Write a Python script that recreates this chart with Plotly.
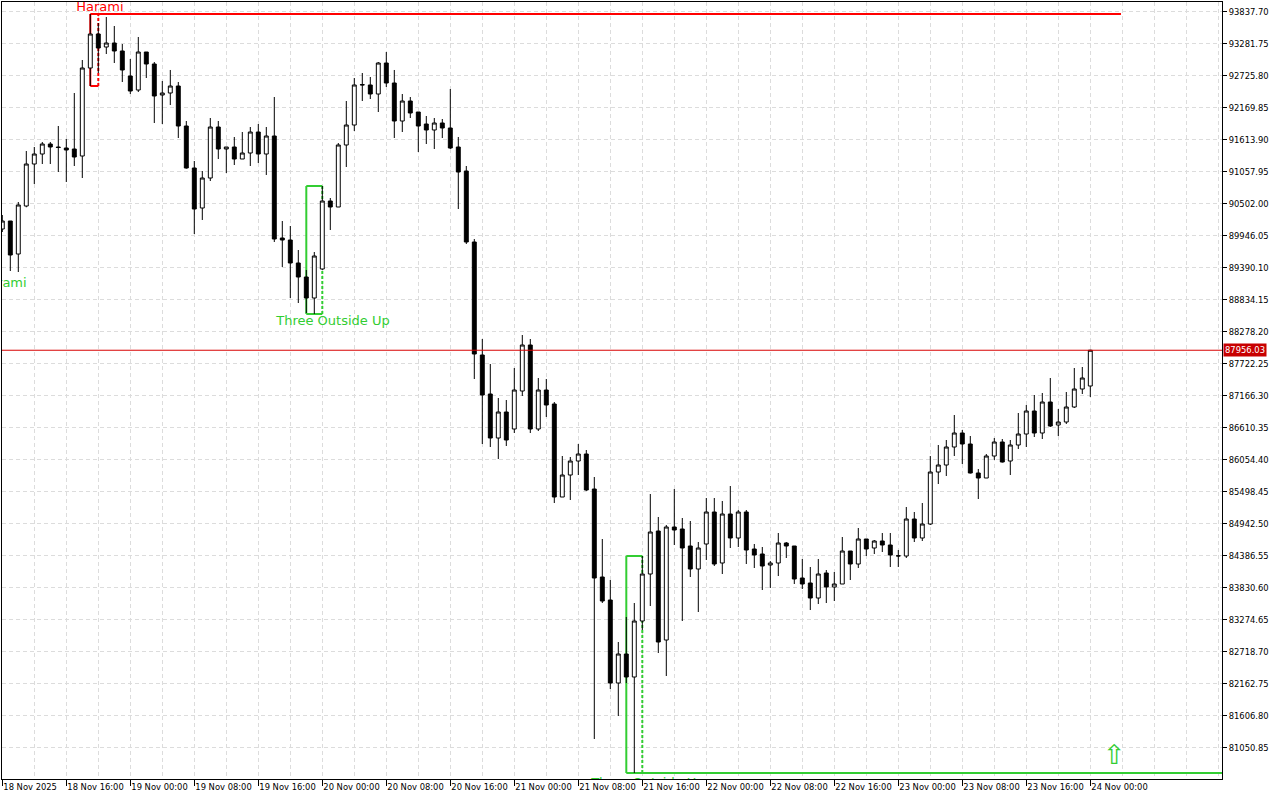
import pandas as pd
import plotly.graph_objects as go

# ---------------- data ----------------
START = "2025-11-18 08:00"
N_BARS = 137

OPEN = [90062.5, 90201.5, 89628.2, 90462.0, 91191.8, 91365.5, 91539.2, 91487.1, 91469.7, 91452.4,
        91330.7, 92859.6, 93450.3, 93224.4, 93293.9, 93155.0, 92720.6, 92477.4, 93137.6, 92929.1,
        92390.5, 92425.3, 92546.9, 91851.9, 91122.3, 90427.3, 90948.5, 91834.6, 91452.4, 91487.1,
        91278.6, 91382.9, 91747.7, 91365.5, 91678.2, 89906.1, 89871.4, 89471.8, 89228.6, 88863.7,
        89367.6, 90548.9, 90444.7, 91521.9, 91869.3, 92564.3, 92564.3, 92407.9, 92946.5, 92599.0,
        91938.8, 92286.3, 92095.2, 91886.7, 91782.5, 91904.0, 91817.2, 91487.1, 91070.1, 89836.6,
        87873.4, 87195.9, 86431.5, 86883.2, 86587.8, 87248.0, 88047.2, 86587.8, 87265.4, 87022.1,
        85406.4, 85788.6, 86031.8, 86153.5, 85545.4, 84016.5, 83617.0, 82175.0, 82678.8, 82279.2,
        83252.1, 84068.7, 84815.7, 82922.0, 84885.2, 84850.5, 84555.1, 84155.5, 84589.9, 85145.8,
        84259.8, 85111.1, 84694.1, 85145.8, 84503.0, 84416.1, 84225.0, 84259.8, 84607.2, 84555.1,
        83999.2, 83912.3, 83651.7, 84086.0, 83842.8, 83894.9, 84468.3, 84242.4, 84676.7, 84520.4,
        84642.0, 84572.5, 84381.4, 84381.4, 85024.2, 84694.1, 84937.3, 85840.8, 85962.4, 86275.1,
        86518.3, 86327.2, 85823.4, 85736.5, 86118.7, 86362.0, 86031.8, 86309.8, 86500.9, 86900.5,
        86518.3, 87056.9, 86657.3, 86709.4, 86970.0, 87282.7, 87334.9]

HIGH = [90305.7, 90201.5, 90531.6, 91417.6, 91487.1, 91574.0, 91574.0, 91851.9, 91626.1, 92425.3,
        92998.6, 93797.8, 93641.4, 93745.7, 93589.3, 93276.6, 93016.0, 93398.2, 93137.6, 92963.8,
        92633.8, 92824.9, 92616.4, 91938.8, 91243.9, 91070.1, 91990.9, 91938.8, 91487.1, 91660.8,
        91747.7, 91834.6, 91886.7, 91834.6, 92355.8, 90201.5, 90114.6, 89697.6, 89350.2, 89662.9,
        90809.5, 90601.0, 91556.6, 92286.3, 92685.9, 92772.7, 92703.2, 92963.8, 93137.6, 92824.9,
        92407.9, 92355.8, 92095.2, 92025.7, 91990.9, 91973.6, 92494.8, 91660.8, 91157.0, 89888.8,
        88151.4, 87717.1, 87126.4, 87091.6, 87647.6, 88220.9, 88151.4, 87473.9, 87456.5, 87056.9,
        86118.7, 86101.4, 86327.2, 86223.0, 85753.9, 84676.7, 83964.4, 82887.3, 83321.6, 83564.8,
        84381.4, 85458.5, 85059.0, 84920.0, 85545.4, 85041.6, 84989.5, 84624.6, 85389.0, 85389.0,
        85336.9, 85597.5, 85180.6, 85180.6, 84589.9, 84537.8, 84294.5, 84781.0, 84624.6, 84555.1,
        84329.3, 84190.3, 84329.3, 84138.2, 84103.4, 84711.5, 84468.3, 84867.8, 84676.7, 84659.4,
        84781.0, 84781.0, 84485.6, 85232.7, 85145.8, 85302.2, 86118.7, 86309.8, 86396.7, 86831.0,
        86570.4, 86466.2, 85892.9, 86153.5, 86431.5, 86414.1, 86396.7, 86865.8, 87004.8, 87178.5,
        87213.3, 87473.9, 86935.3, 87230.6, 87647.6, 87665.0, 87965.0]

LOW = [90010.4, 89332.8, 89315.4, 90440.0, 90844.3, 91191.8, 91191.8, 91052.8, 90879.0, 91157.0,
       90948.5, 92546.9, 92772.7, 93102.8, 92946.5, 92616.4, 92407.9, 92442.6, 92685.9, 91904.0,
       91886.7, 92216.8, 91643.5, 91110.0, 89975.6, 90218.9, 90896.4, 91278.6, 91035.4, 91174.4,
       91278.6, 91157.0, 91209.1, 91000.7, 89836.6, 89402.3, 88863.7, 88776.9, 88603.1, 88585.8,
       89350.2, 90045.1, 90444.7, 91139.6, 91765.1, 92286.3, 92321.0, 92095.2, 92529.5, 91643.5,
       91747.7, 91990.9, 91400.2, 91539.2, 91452.4, 91643.5, 91452.4, 90410.0, 89801.9, 87456.5,
       86327.2, 86275.1, 86066.6, 86292.5, 86518.3, 87161.1, 86518.3, 86553.1, 86796.3, 85302.2,
       85406.4, 85354.3, 85788.6, 85510.7, 81202.0, 83564.8, 82070.7, 81601.6, 82175.0, 80611.4,
       83095.8, 83512.7, 82696.2, 82296.6, 84572.5, 83252.1, 84016.5, 83408.5, 84311.9, 84207.6,
       84068.7, 84520.4, 84537.8, 84242.4, 84172.9, 83790.7, 83825.4, 84033.9, 84346.6, 83894.9,
       83808.0, 83443.2, 83547.5, 83564.8, 83599.6, 83894.9, 83964.4, 84172.9, 84381.4, 84416.1,
       84450.9, 84190.3, 84190.3, 84346.6, 84624.6, 84642.0, 84920.0, 85632.3, 85771.3, 86118.7,
       85979.7, 85815.0, 85371.7, 85736.5, 86049.2, 86005.0, 85788.6, 86240.3, 86275.1, 86448.8,
       86414.1, 86622.6, 86466.2, 86674.7, 86952.7, 87195.9, 87143.8]

CLOSE = [90201.5, 89610.8, 90479.5, 91191.8, 91365.5, 91539.2, 91487.1, 91478.4, 91435.0, 91313.4,
         92859.6, 93450.3, 93207.1, 93293.9, 93155.0, 92824.9, 92460.0, 93137.6, 92929.1, 92373.2,
         92425.3, 92546.9, 91851.9, 91122.3, 90410.0, 90948.5, 91834.6, 91452.4, 91487.1, 91278.6,
         91382.9, 91747.7, 91365.5, 91678.2, 89888.8, 89871.4, 89471.8, 89228.6, 88863.7, 89593.4,
         90548.9, 90444.7, 91521.9, 91869.3, 92564.3, 92570.0, 92407.9, 92946.5, 92599.0, 91938.8,
         92286.3, 92077.8, 91851.9, 91782.5, 91904.0, 91817.2, 91469.7, 91052.8, 89836.6, 87890.8,
         87178.5, 86431.5, 86883.2, 86396.7, 87265.4, 88047.2, 86587.8, 87265.4, 87004.8, 85406.4,
         85788.6, 86031.8, 86153.5, 85528.1, 83999.2, 83599.6, 82175.0, 82678.8, 82279.2, 83252.1,
         84068.7, 84798.4, 82887.3, 84885.2, 84833.1, 84520.4, 84155.5, 84520.4, 85145.8, 84242.4,
         85111.1, 84694.1, 85145.8, 84485.6, 84398.8, 84207.6, 84259.8, 84607.2, 84555.1, 83981.8,
         83894.9, 83651.7, 84068.7, 83842.8, 83894.9, 84468.3, 84242.4, 84676.7, 84503.0, 84642.0,
         84572.5, 84398.8, 84385.0, 85024.2, 84694.1, 84937.3, 85840.8, 85962.4, 86275.1, 86518.3,
         86327.2, 85823.4, 85736.5, 86118.7, 86362.0, 86014.5, 86309.8, 86500.9, 86900.5, 86518.3,
         87056.9, 86639.9, 86709.4, 86970.0, 87282.7, 87473.9, 87956.03]

X_TICK_LABELS = ["18 Nov 2025", "18 Nov 16:00", "19 Nov 00:00", "19 Nov 08:00", "19 Nov 16:00",
                 "20 Nov 00:00", "20 Nov 08:00", "20 Nov 16:00", "21 Nov 00:00", "21 Nov 08:00",
                 "21 Nov 16:00", "22 Nov 00:00", "22 Nov 08:00", "22 Nov 16:00", "23 Nov 00:00",
                 "23 Nov 08:00", "23 Nov 16:00", "24 Nov 00:00"]

Y_TICKS = [93837.70, 93281.75, 92725.80, 92169.85, 91613.90, 91057.95, 90502.00, 89946.05,
           89390.10, 88834.15, 88278.20, 87722.25, 87166.30, 86610.35, 86054.40, 85498.45,
           84942.50, 84386.55, 83830.60, 83274.65, 82718.70, 82162.75, 81606.80, 81050.85]

CURRENT_PRICE = 87956.03

# candlestick patterns: name, first bar, last bar, colour, extended top / bottom line end
PATTERN_NAMES = ["Harami", "Three Outside Up", "Three Outside Up"]
PATTERN_FIRST = [11, 38, 78]
PATTERN_LAST = [12, 40, 80]
PATTERN_COLORS = ["#FF0000", "#32CD32", "#32CD32"]
PATTERN_TOP_EXT = ["2025-11-24 03:50", None, None]
PATTERN_BOT_EXT = [None, None, "2025-11-25 06:00"]

# pattern labels (text, time, price, colour)
LABEL_TEXT = ["Harami", "Harami", "Three Outside Up", "Three Outside Up"]
LABEL_TIME = ["2025-11-18 08:05", "2025-11-18 20:12", "2025-11-20 01:20", "2025-11-21 16:42"]
LABEL_PRICE = [89107.0, 93900.0, 88447.0, 80425.0]
LABEL_COLOR = ["#32CD32", "#FF0000", "#32CD32", "#32CD32"]

# buy signal arrow
ARROW_TIME = "2025-11-24 03:00"
ARROW_PRICE = 80880.0

X_RANGE = ["2025-11-18 07:57:45", "2025-11-24 16:27:45"]
Y_RANGE = [80507.1, 94006.2]

# ---------------- figure ----------------
times = pd.date_range(START, periods=N_BARS, freq="h")

fig = go.Figure()
fig.add_trace(go.Candlestick(
    x=times, open=OPEN, high=HIGH, low=LOW, close=CLOSE,
    increasing=dict(line=dict(color="black", width=1), fillcolor="white"),
    decreasing=dict(line=dict(color="black", width=1), fillcolor="black"),
    whiskerwidth=0, hoverinfo="skip", showlegend=False,
))

shapes = []
for name, i0, i1, col, text, bext in zip(PATTERN_NAMES, PATTERN_FIRST, PATTERN_LAST,
                                         PATTERN_COLORS, PATTERN_TOP_EXT, PATTERN_BOT_EXT):
    top = max(HIGH[i0:i1 + 1])
    bot = min(LOW[i0:i1 + 1])
    x0, x1 = times[i0], times[i1]
    solid = dict(color=col, width=2)
    dashed = dict(color=col, width=2, dash="3px,2px")
    shapes += [
        dict(type="line", x0=x0, x1=text if text else x1, y0=top, y1=top, line=solid, layer="between"),
        dict(type="line", x0=x0, x1=bext if bext else x1, y0=bot, y1=bot, line=solid, layer="between"),
        dict(type="line", x0=x0, x1=x0, y0=bot, y1=top, line=solid, layer="between"),
        dict(type="line", x0=x1, x1=x1, y0=bot, y1=top, line=dashed, layer="between"),
    ]

shapes.append(dict(type="line", xref="paper", x0=0, x1=1, y0=CURRENT_PRICE, y1=CURRENT_PRICE,
                   line=dict(color="#D80000", width=1), layer="above"))

for txt, t, p, c in zip(LABEL_TEXT, LABEL_TIME, LABEL_PRICE, LABEL_COLOR):
    fig.add_trace(go.Scatter(x=[t], y=[p], mode="text", text=[txt], textposition="middle center",
                             textfont=dict(family="DejaVu Sans", size=13, color=c),
                             cliponaxis=True, hoverinfo="skip", showlegend=False))

fig.add_trace(go.Scatter(x=[ARROW_TIME], y=[ARROW_PRICE], mode="text", text=["\u21e7"],
                         textposition="middle center",
                         textfont=dict(family="DejaVu Sans", size=27, color="#32CD32"),
                         cliponaxis=True, hoverinfo="skip", showlegend=False))

grid = "#DCDCDC"
tick_font = dict(family="DejaVu Sans", size=8.4, color="black")

fig.update_layout(
    width=1280, height=800,
    margin=dict(l=2, r=58, t=2, b=21, autoexpand=False),
    paper_bgcolor="white", plot_bgcolor="white",
    shapes=shapes,
    showlegend=False,
    xaxis=dict(
        type="date", range=X_RANGE, rangeslider=dict(visible=False),
        tickmode="array", tickvals=list(times[::8]), ticktext=X_TICK_LABELS,
        ticks="outside", ticklen=6, tickcolor="black", tickwidth=1, tickangle=0,
        ticklabelposition="outside right", tickfont=tick_font, automargin=False,
        showline=True, linecolor="black", linewidth=1, mirror=True,
        showgrid=True, gridcolor=grid, griddash="4px,3px", gridwidth=1,
        minor=dict(tick0=START, dtick=4 * 3600 * 1000, showgrid=True, gridcolor=grid,
                   griddash="4px,3px", gridwidth=1, ticks=""),
        zeroline=False, fixedrange=True,
    ),
    yaxis=dict(
        side="right", range=Y_RANGE, automargin=False,
        tickmode="array", tickvals=Y_TICKS, ticktext=[f"{v:.2f}" for v in Y_TICKS],
        ticks="outside", ticklen=4, tickcolor="black", tickwidth=1, tickfont=tick_font,
        showline=True, linecolor="black", linewidth=1, mirror=True,
        showgrid=True, gridcolor=grid, griddash="4px,3px", gridwidth=1,
        zeroline=False, fixedrange=True,
    ),
    annotations=[dict(
        xref="paper", x=1, xanchor="left", xshift=1, y=CURRENT_PRICE, yref="y",
        text=f"{CURRENT_PRICE:.2f}", showarrow=False, bgcolor="#C80000",
        font=dict(family="DejaVu Sans", size=8.4, color="white"), borderpad=1,
    )],
)

fig.write_html("out.html", config={"displayModeBar": False},
               post_script="document.body.style.margin='0';document.body.style.overflow='hidden';")
